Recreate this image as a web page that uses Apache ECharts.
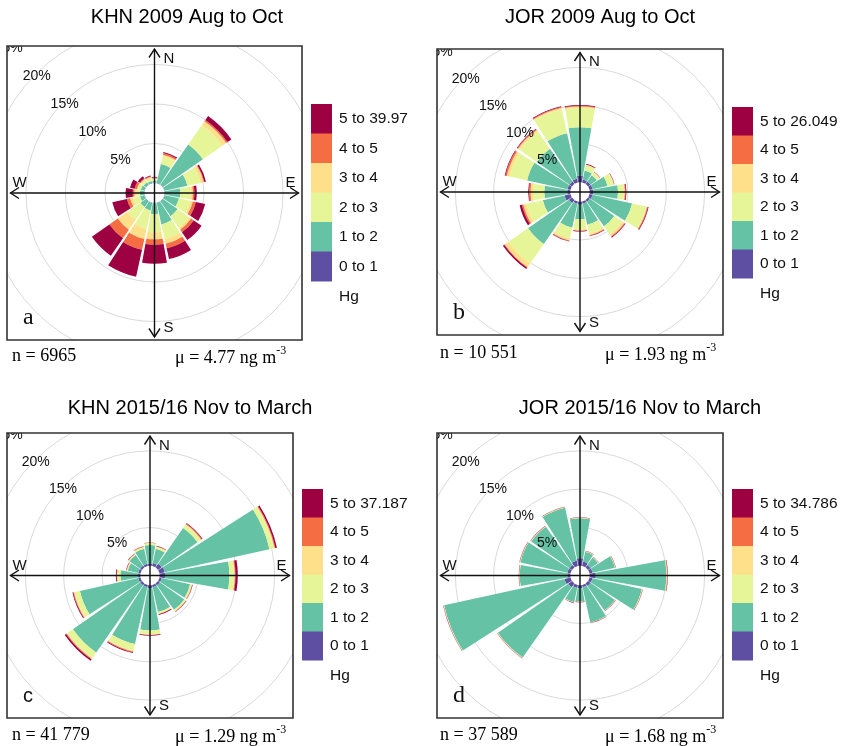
<!DOCTYPE html>
<html><head><meta charset="utf-8">
<script src="https://cdn.jsdelivr.net/npm/echarts@6/dist/echarts.min.js"></script>
<style>html,body{margin:0;padding:0;background:#fff}#c{width:842px;height:746px}</style>
</head><body><div id="c"></div>
<script>
// ---------------- DATA ----------------
const directions = ['N','NNE','NE','ENE','E','ESE','SE','SSE','S','SSW','SW','WSW','W','WNW','NW','NNW'];
const bandNames = ['0 to 1','1 to 2','2 to 3','3 to 4','4 to 5'];
const gridValues = [5, 10, 15, 20, 25];
const gridLabels = ['5%', '10%', '15%', '20%', '25%'];
const compassLabels = ['N', 'E', 'S', 'W'];

// cumulative frequency (%) at the outer edge of each Hg band, per direction
// Panel a: KHN 2009 Aug to Oct
const khn09_0to1 = [0.05,0.05,0.05,0.05,0.05,0.05,0.05,0.05,0.05,0.05,0.05,0.05,0.05,0.05,0.05,0.05];
const khn09_1to2 = [0.3,2.5,6.2,3.0,2.0,1.9,2.3,2.8,1.4,1.0,0.9,0.6,0.6,0.5,0.4,0.3];
const khn09_2to3 = [0.5,3.5,9.2,4.7,3.3,3.4,4.1,4.7,3.7,3.4,2.9,1.5,1.0,0.9,0.7,0.6];
const khn09_3to4 = [0.6,3.7,9.8,5.1,3.6,3.7,4.4,5.3,4.6,4.7,4.4,1.9,1.3,1.0,0.9,0.8];
const khn09_4to5 = [0.7,3.9,10.0,5.2,3.8,4.1,4.8,5.9,5.3,6.1,5.7,2.3,1.5,1.3,1.0,0.9];
const khn09_5up  = [0.8,4.05,10.6,5.4,4.1,5.3,6.0,7.3,7.7,9.6,8.4,4.2,2.4,1.9,1.3,1.0];

// Panel b: JOR 2009 Aug to Oct
const jor09_0to1 = [0.9,0.4,0.4,0.4,0.5,0.4,0.3,0.3,0.4,0.3,0.5,0.8,0.4,0.4,0.4,0.5];
const jor09_1to2 = [7.2,1.6,1.4,2.4,3.7,5.7,4.2,3.1,2.3,3.5,7.0,3.7,3.4,5.8,5.6,6.6];
const jor09_2to3 = [9.7,2.3,1.8,3.2,4.5,7.6,5.5,4.3,3.6,5.0,10.1,5.9,4.9,8.1,8.3,9.8];
const jor09_3to4 = [9.9,2.4,1.9,3.3,4.6,7.7,5.8,4.5,3.8,5.2,10.7,6.3,5.2,8.5,8.6,10.0];
const jor09_4to5 = [10.0,2.4,1.9,3.3,4.7,7.8,5.9,4.6,3.8,5.3,10.8,6.5,5.4,8.7,8.7,10.1];
const jor09_5up  = [10.1,2.5,1.95,3.35,4.8,7.9,6.0,4.65,3.9,5.35,11.0,6.8,5.5,8.8,8.8,10.2];

// Panel c: KHN 2015/16 Nov to March
const khn15_0to1 = [0.3,0.4,0.6,0.7,0.7,0.3,0.3,0.3,0.4,0.3,0.3,0.3,0.3,0.3,0.3,0.3];
const khn15_1to2 = [2.7,2.3,6.3,14.7,9.1,4.1,4.2,3.6,5.9,7.9,11.0,8.1,2.6,1.7,2.0,2.3];
const khn15_2to3 = [2.9,2.6,6.8,15.3,9.7,4.3,4.4,3.8,6.4,8.8,11.9,8.8,3.0,1.8,2.1,2.5];
const khn15_3to4 = [3.0,2.6,6.9,15.4,9.8,4.35,4.45,3.9,6.5,8.9,12.0,8.9,3.05,1.85,2.15,2.55];
const khn15_4to5 = [3.0,2.65,7.0,15.5,9.9,4.4,4.5,3.9,6.5,9.0,12.1,9.0,3.1,1.9,2.2,2.6];
const khn15_5up  = [3.05,2.7,7.1,15.7,10.2,4.45,4.55,4.0,6.6,9.1,12.3,9.1,3.2,1.95,2.25,2.65];

// Panel d: JOR 2015/16 Nov to March
const jor15_0to1 = [1.0,0.6,0.4,0.4,0.8,0.4,0.4,0.3,0.4,0.4,0.6,0.8,0.4,0.4,0.4,0.7];
const jor15_1to2 = [6.2,1.9,1.6,3.4,10.0,7.0,4.3,5.0,2.1,2.3,11.8,16.9,6.6,6.7,6.5,7.8];
const jor15_2to3 = [6.25,1.95,1.65,3.45,10.05,7.05,4.35,5.05,2.15,2.35,11.85,16.95,6.65,6.75,6.55,7.85];
const jor15_3to4 = [6.27,1.97,1.67,3.47,10.1,7.07,4.37,5.07,2.17,2.37,11.87,16.97,6.67,6.77,6.57,7.87];
const jor15_4to5 = [6.29,1.99,1.69,3.49,10.15,7.09,4.39,5.09,2.19,2.39,11.89,16.99,6.69,6.79,6.59,7.89];
const jor15_5up  = [6.33,2.03,1.73,3.53,10.2,7.13,4.43,5.13,2.23,2.43,11.93,17.03,6.73,6.83,6.63,7.93];

// ---------------- STYLE / LAYOUT ----------------
const bandColors = ['#5E4FA2','#66C2A5','#E6F598','#FEE08B','#F46D43','#9E0142'];

const panels = [
  { title:'KHN 2009 Aug to Oct', topBand:'5 to 39.97', nText:'n = 6965', mu:'4.77', letter:'a', letterFont:'Liberation Serif', letterSize:24,
    cum:[khn09_0to1,khn09_1to2,khn09_2to3,khn09_3to4,khn09_4to5,khn09_5up],
    frame:{x:7,y:46,w:295,h:294}, titleX:187, titleY:17, leg:{x:311,y:104,h:29.5}, statY:356, nX:12, muX:175 },
  { title:'JOR 2009 Aug to Oct', topBand:'5 to 26.049', nText:'n = 10 551', mu:'1.93', letter:'b', letterFont:'Liberation Serif', letterSize:24,
    cum:[jor09_0to1,jor09_1to2,jor09_2to3,jor09_3to4,jor09_4to5,jor09_5up],
    frame:{x:437,y:49,w:286,h:286}, titleX:600, titleY:17, leg:{x:732,y:107,h:28.5}, statY:353, nX:440, muX:605 },
  { title:'KHN 2015/16 Nov to March', topBand:'5 to 37.187', nText:'n = 41 779', mu:'1.29', letter:'c', letterFont:'Liberation Sans', letterSize:20,
    cum:[khn15_0to1,khn15_1to2,khn15_2to3,khn15_3to4,khn15_4to5,khn15_5up],
    frame:{x:7,y:433,w:286,h:285}, titleX:190, titleY:408, leg:{x:302,y:489,h:28.5}, statY:735, nX:12, muX:175 },
  { title:'JOR 2015/16 Nov to March', topBand:'5 to 34.786', nText:'n = 37 589', mu:'1.68', letter:'d', letterFont:'Liberation Serif', letterSize:24,
    cum:[jor15_0to1,jor15_1to2,jor15_2to3,jor15_3to4,jor15_4to5,jor15_5up],
    frame:{x:437,y:433,w:286,h:285}, titleX:640, titleY:408, leg:{x:732,y:489,h:28.5}, statY:735, nX:440, muX:605 }
];

const chart = echarts.init(document.getElementById('c'), null, {renderer:'canvas'});
const polar = [], angleAxis = [], radiusAxis = [], series = [], graphic = [];

panels.forEach((P, pi) => {
  const F = P.frame;
  const cx = F.x + F.w / 2, cy = F.y + F.h / 2;
  const half = F.w / 2;
  const R = half * 1.407;           // radius of the 25 % ring
  const r0 = R * 0.0483;            // inner offset hole
  polar.push({ center:[cx, cy], radius:[r0, R] });
  angleAxis.push({ polarIndex:pi, type:'category', data:directions, startAngle:101.25, clockwise:true, boundaryGap:true,
    axisLine:{show:false}, axisTick:{show:false}, axisLabel:{show:false}, splitLine:{show:false} });
  radiusAxis.push({ polarIndex:pi, type:'value', min:0, max:25,
    axisLine:{show:false}, axisTick:{show:false}, axisLabel:{show:false}, splitLine:{show:false} });

  // grid rings
  series.push({
    type:'custom', coordinateSystem:'polar', polarIndex:pi, z:1, silent:true, animation:false,
    data: gridValues.map(v => [v, 0]),
    renderItem: function (params, api) {
      const cs = params.coordSys;
      const p = api.coord([api.value(0), 0]);
      const r = Math.hypot(p[0] - cs.cx, p[1] - cs.cy);
      return { type:'group',
        clipPath:{ type:'rect', shape:{ x:F.x, y:F.y, width:F.w, height:F.h } },
        children:[{ type:'circle', shape:{ cx:cs.cx, cy:cs.cy, r:r },
          style:{ fill:'none', stroke:'#d9d9d9', lineWidth:1 } }] };
    }
  });
  // stacked bands
  P.cum.forEach((arr, k) => {
    const vals = arr.map((v, i) => k === 0 ? v : +(v - P.cum[k-1][i]).toFixed(3));
    series.push({ type:'bar', coordinateSystem:'polar', polarIndex:pi, stack:'s'+pi, name:(k<5?bandNames[k]:P.topBand),
      data:vals, barCategoryGap:'10%', itemStyle:{ color:bandColors[k] }, z:2, silent:true, animation:false });
  });
  // ring labels
  series.push({
    type:'custom', coordinateSystem:'polar', polarIndex:pi, z:5, silent:true, animation:false,
    data: gridValues.map(v => [v, 0]),
    renderItem: function (params, api) {
      const cs = params.coordSys;
      const p = api.coord([api.value(0), 0]);
      const r = Math.hypot(p[0] - cs.cx, p[1] - cs.cy);
      return { type:'group',
        clipPath:{ type:'rect', shape:{ x:F.x, y:F.y, width:F.w, height:F.h } },
        children:[{ type:'text', x:cs.cx - r * Math.SQRT1_2 + 1, y:cs.cy - r * Math.SQRT1_2 + 2,
          style:{ text:gridLabels[params.dataIndex], fill:'#111', font:'14px "Liberation Sans"', align:'center', verticalAlign:'middle' } }] };
    }
  });

  // frame
  graphic.push({ type:'rect', z:100, shape:{ x:F.x, y:F.y, width:F.w, height:F.h }, style:{ fill:'none', stroke:'#333', lineWidth:1.6 } });
  // compass axes with open arrows
  const L = half - 3.5, ah = 8.5, aw = 5.5;
  const dirs = [[0,-1],[1,0],[0,1],[-1,0]];
  graphic.push({ type:'line', z:100, shape:{ x1:cx, y1:cy - L, x2:cx, y2:cy + L }, style:{ stroke:'#111', lineWidth:1.4 } });
  graphic.push({ type:'line', z:100, shape:{ x1:cx - L, y1:cy, x2:cx + L, y2:cy }, style:{ stroke:'#111', lineWidth:1.4 } });
  dirs.forEach((d, j) => {
    const tx = cx + d[0] * L, ty = cy + d[1] * L;
    const bx = tx - d[0] * ah, by = ty - d[1] * ah;
    const px = -d[1] * aw, py = d[0] * aw;
    graphic.push({ type:'polyline', z:100, shape:{ points:[[bx + px, by + py], [tx, ty], [bx - px, by - py]] },
      style:{ stroke:'#111', lineWidth:1.4, fill:null } });
  });
  const cl = [[cx + 9, F.y + 13, 'left'], [cx + L - 3, cy - 10, 'right'], [cx + 9, F.y + F.h - 12, 'left'], [cx - L + 2, cy - 10, 'left']];
  cl.forEach((c, j) => graphic.push({ type:'text', z:101, x:c[0], y:c[1],
    style:{ text:compassLabels[j], fill:'#111', font:'15px "Liberation Sans"', align:c[2], verticalAlign:'middle' } }));
  // panel letter
  graphic.push({ type:'text', z:101, x:F.x + 16, y:F.y + F.h - 22,
    style:{ text:P.letter, fill:'#111', font:P.letterSize + 'px "' + P.letterFont + '"', align:'left', verticalAlign:'middle' } });
  // title
  graphic.push({ type:'text', z:101, x:P.titleX, y:P.titleY,
    style:{ text:P.title, fill:'#000', font:'20px "Liberation Sans"', align:'center', verticalAlign:'middle' } });
  // legend
  const lg = P.leg;
  for (let k = 0; k < 6; k++) {
    const idx = 5 - k;
    graphic.push({ type:'rect', z:101, shape:{ x:lg.x, y:lg.y + k * lg.h, width:21, height:lg.h + 0.5 }, style:{ fill:bandColors[idx] } });
    graphic.push({ type:'text', z:101, x:lg.x + 28, y:lg.y + k * lg.h + lg.h / 2,
      style:{ text:(idx === 5 ? P.topBand : bandNames[idx]), fill:'#111', font:'15.5px "Liberation Sans"', align:'left', verticalAlign:'middle' } });
  }
  graphic.push({ type:'text', z:101, x:lg.x + 28, y:lg.y + 6 * lg.h + 16,
    style:{ text:'Hg', fill:'#111', font:'15.5px "Liberation Sans"', align:'left', verticalAlign:'middle' } });
  // stats
  graphic.push({ type:'text', z:101, x:P.nX, y:P.statY,
    style:{ text:P.nText, fill:'#000', font:'18px "Liberation Serif"', align:'left', verticalAlign:'middle' } });
  graphic.push({ type:'text', z:101, x:P.muX, y:P.statY,
    style:{ text:'{m|μ = ' + P.mu + ' ng m}{s|-3}', fill:'#000', align:'left', verticalAlign:'middle',
      rich:{ m:{ font:'18px "Liberation Serif"', fill:'#000', lineHeight:22, verticalAlign:'bottom' },
             s:{ font:'12px "Liberation Serif"', fill:'#000', lineHeight:22, verticalAlign:'top' } } } });
});

chart.setOption({ animation:false, polar, angleAxis, radiusAxis, series, graphic:{ elements:graphic } });
</script></body></html>
